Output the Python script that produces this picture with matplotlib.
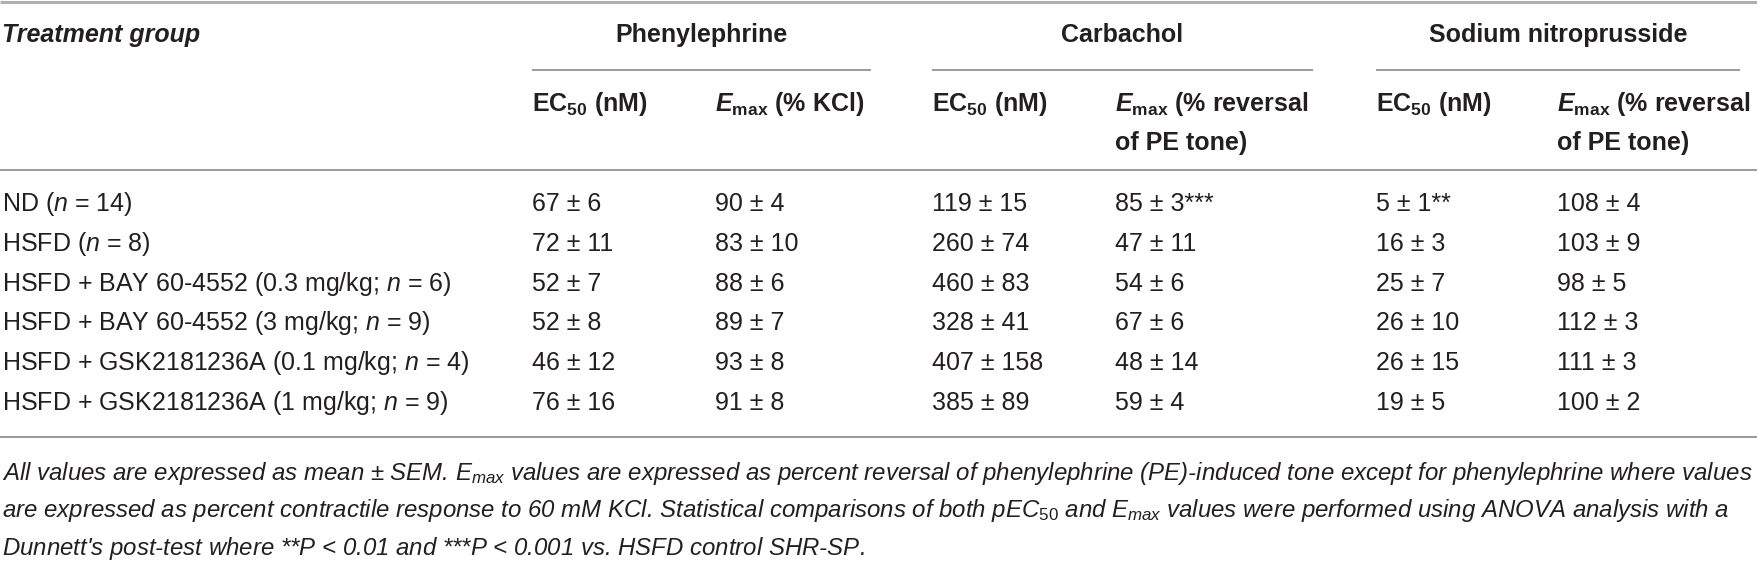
import matplotlib
matplotlib.use("Agg")
import matplotlib.pyplot as plt

plt.rcParams['font.family'] = ['Liberation Sans', 'DejaVu Sans']
plt.rcParams['mathtext.fontset'] = 'custom'
plt.rcParams['mathtext.rm'] = 'Liberation Sans'
plt.rcParams['mathtext.it'] = 'Liberation Sans:italic'
plt.rcParams['mathtext.bf'] = 'Liberation Sans:bold'
try:
    plt.rcParams['mathtext.bfit'] = 'Liberation Sans:italic:bold'
    EMAX = r"$\mathbfit{E}_{\mathbf{max}}$"
except KeyError:
    EMAX = r"$\mathbf{E}_{\mathbf{max}}$"

# table content
groups = [
    "ND ($n$ = 14)",
    "HSFD ($n$ = 8)",
    "HSFD + BAY 60-4552 (0.3 mg/kg; $n$ = 6)",
    "HSFD + BAY 60-4552 (3 mg/kg; $n$ = 9)",
    "HSFD + GSK2181236A (0.1 mg/kg; $n$ = 4)",
    "HSFD + GSK2181236A (1 mg/kg; $n$ = 9)",
]
pe_ec50 = ["67 ± 6", "72 ± 11", "52 ± 7", "52 ± 8", "46 ± 12", "76 ± 16"]
pe_emax = ["90 ± 4", "83 ± 10", "88 ± 6", "89 ± 7", "93 ± 8", "91 ± 8"]
cch_ec50 = ["119 ± 15", "260 ± 74", "460 ± 83", "328 ± 41", "407 ± 158", "385 ± 89"]
cch_emax = ["85 ± 3***", "47 ± 11", "54 ± 6", "67 ± 6", "48 ± 14", "59 ± 4"]
snp_ec50 = ["5 ± 1**", "16 ± 3", "25 ± 7", "26 ± 10", "26 ± 15", "19 ± 5"]
snp_emax = ["108 ± 4", "103 ± 9", "98 ± 5", "112 ± 3", "111 ± 3", "100 ± 2"]

agents = ["Phenylephrine", "Carbachol", "Sodium nitroprusside"]
sub_headers = [
    [r"EC$_{\mathbf{50}}$ (nM)", EMAX + " (% KCl)"],
    [r"EC$_{\mathbf{50}}$ (nM)", EMAX + " (% reversal\nof PE tone)"],
    [r"EC$_{\mathbf{50}}$ (nM)", EMAX + " (% reversal\nof PE tone)"],
]
footnote = [
    "All values are expressed as mean ± SEM. $E_{max}$ values are expressed as percent reversal "
    "of phenylephrine (PE)-induced tone except for phenylephrine where values",
    "are expressed as percent contractile response to 60 mM KCl. Statistical comparisons of both "
    "pEC$_{\\mathit{50}}$ and $E_{max}$ values were performed using ANOVA analysis with a",
    "Dunnett's post-test where **$P$ < 0.01 and ***$P$ < 0.001 vs. HSFD control SHR-SP.",
]

W, H = 1758, 561
fig = plt.figure(figsize=(W / 100, H / 100), dpi=100)
ax = fig.add_axes([0, 0, 1, 1])
ax.set_xlim(0, W)
ax.set_ylim(H, 0)
ax.axis('off')

ink = '#231f20'
rule = '#9a9a9a'
fs = 18

# layout (pixels)
col_x = [532, 715, 932, 1115, 1376, 1557]
spans = [(532, 871), (932, 1313), (1376, 1740)]
row_y = [211, 251, 291, 330, 370, 410]

# rules
ax.plot([0, W], [1.5, 1.5], color='#b0b0b0', lw=2.2, solid_capstyle='butt')
for x0, x1 in spans:
    ax.plot([x0, x1], [70, 70], color=rule, lw=1.4, solid_capstyle='butt')
ax.plot([0, W], [170, 170], color=rule, lw=1.4, solid_capstyle='butt')
ax.plot([0, W], [437, 437], color=rule, lw=1.4, solid_capstyle='butt')

# header
ax.text(2, 42, "Treatment group", fontsize=fs, fontweight='bold', fontstyle='italic',
        color=ink, va='baseline', ha='left')
for (x0, x1), name in zip(spans, agents):
    ax.text((x0 + x1) / 2, 42, name, fontsize=fs, fontweight='bold', color=ink,
            va='baseline', ha='center')
for i, pair in enumerate(sub_headers):
    for j, lab in enumerate(pair):
        lines = lab.split("\n")
        for k, ln in enumerate(lines):
            ax.text(col_x[2 * i + j], 111 + 39 * k, ln, fontsize=fs, fontweight='bold',
                    color=ink, va='baseline', ha='left')

# body
columns = [pe_ec50, pe_emax, cch_ec50, cch_emax, snp_ec50, snp_emax]
for r, y in enumerate(row_y):
    ax.text(2, y, groups[r], fontsize=fs, color=ink, va='baseline', ha='left')
    for c, vals in enumerate(columns):
        ax.text(col_x[c], y, vals[r], fontsize=fs, color=ink, va='baseline', ha='left')

# footnote
for k, ln in enumerate(footnote):
    ax.text(2, 480 + 37.5 * k, ln, fontsize=17.3, fontstyle='italic', color=ink,
            va='baseline', ha='left')

fig.savefig("out.png", dpi=100)
